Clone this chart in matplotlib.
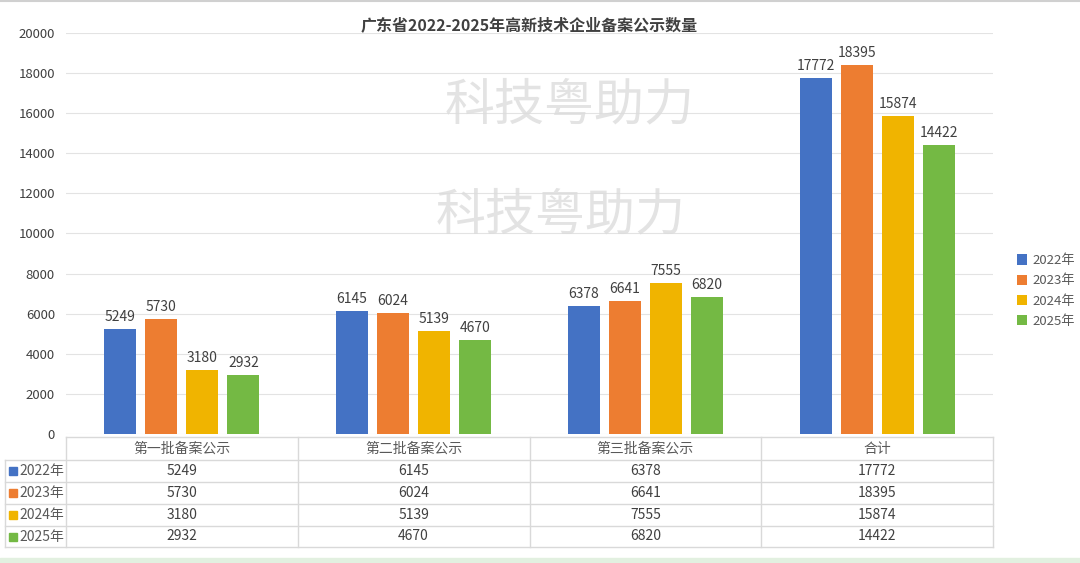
import numpy as np
import matplotlib.pyplot as plt

plt.rcParams['font.family'] = ['Noto Sans CJK SC', 'DejaVu Sans']

categories = ['第一批备案公示', '第二批备案公示', '第三批备案公示', '合计']
years = ['2022年', '2023年', '2024年', '2025年']
v2022 = [5249, 6145, 6378, 17772]
v2023 = [5730, 6024, 6641, 18395]
v2024 = [3180, 5139, 7555, 15874]
v2025 = [2932, 4670, 6820, 14422]
series = [v2022, v2023, v2024, v2025]
colors = ['#4472C4', '#ED7D31', '#F0B400', '#74B944']

W, H = 1080, 563
fig = plt.figure(figsize=(W / 100, H / 100), dpi=100)

# plot area in pixels
x0, x1 = 66, 993
ytop, ybot = 33, 434
ax = fig.add_axes([x0 / W, 1 - ybot / H, (x1 - x0) / W, (ybot - ytop) / H])

x = np.arange(len(categories))
step = 0.177
bw = 0.138
for i, (vals, c) in enumerate(zip(series, colors)):
    pos = x + (i - 1.5) * step
    ax.bar(pos, vals, width=bw, color=c, label=years[i], zorder=3)
    for p, v in zip(pos, vals):
        ax.text(p, v + 250, str(v), ha='center', va='bottom', fontsize=10, color='#404040', zorder=4)

ax.set_xlim(-0.5, 3.5)
ax.set_ylim(0, 20000)
ax.set_yticks(np.arange(0, 20001, 2000))
ax.tick_params(axis='y', length=0, labelsize=9.5, labelcolor='#404040', pad=8)
ax.set_xticks([])
ax.grid(axis='y', color='#e3e3e3', linewidth=0.8, zorder=0)
for s in ax.spines.values():
    s.set_visible(False)

ax.set_title('广东省2022-2025年高新技术企业备案公示数量', fontsize=11.5, fontweight='bold',
             color='#404040', pad=2)

leg = fig.legend(loc='center left', bbox_to_anchor=(1005 / W, 1 - 291 / H), frameon=False,
                 fontsize=9.5, handlelength=0.8, handleheight=0.8, handletextpad=0.4,
                 labelspacing=0.55)
for t in leg.get_texts():
    t.set_color('#595959')

# overlay in pixel coordinates for table, watermark and frame
ov = fig.add_axes([0, 0, 1, 1], zorder=5)
ov.set_xlim(0, W)
ov.set_ylim(H, 0)
ov.axis('off')
ov.patch.set_alpha(0)

# watermarks
ov.text(570, 105, '科技粤助力', fontsize=36, color='#dcdcdc', ha='center', va='center', alpha=0.8)
ov.text(561, 215, '科技粤助力', fontsize=36, color='#dcdcdc', ha='center', va='center', alpha=0.8)

# data table
lc = '#d9d9d9'
row_y = [437, 460, 482, 504, 526, 547]
col_x = [x0 + k * (x1 - x0) / 4 for k in range(5)]
left = 5
ov.plot([x0, x1], [row_y[0], row_y[0]], color=lc, lw=1)
for y in row_y[1:]:
    ov.plot([left, x1], [y, y], color=lc, lw=1)
for cx in col_x:
    ov.plot([cx, cx], [row_y[0], row_y[-1]], color=lc, lw=1)
ov.plot([left, left], [row_y[1], row_y[-1]], color=lc, lw=1)

for k, cat in enumerate(categories):
    cx = (col_x[k] + col_x[k + 1]) / 2
    ov.text(cx, (row_y[0] + row_y[1]) / 2, cat, ha='center', va='center', fontsize=10,
            color='#595959')
for r, (vals, c) in enumerate(zip(series, colors)):
    yc = (row_y[r + 1] + row_y[r + 2]) / 2
    ov.add_patch(plt.Rectangle((9, yc - 4), 8, 8, color=c))
    ov.text(19, yc, years[r], ha='left', va='center', fontsize=10, color='#595959')
    for k, v in enumerate(vals):
        cx = (col_x[k] + col_x[k + 1]) / 2
        ov.text(cx, yc, str(v), ha='center', va='center', fontsize=10, color='#404040')

# screenshot edges
ov.plot([0, W], [1, 1], color='#d0d0d0', lw=1.5)
ov.add_patch(plt.Rectangle((0, 558), W, 5, color='#e2f0e0'))

fig.savefig('out.png', dpi=100, facecolor='white')
